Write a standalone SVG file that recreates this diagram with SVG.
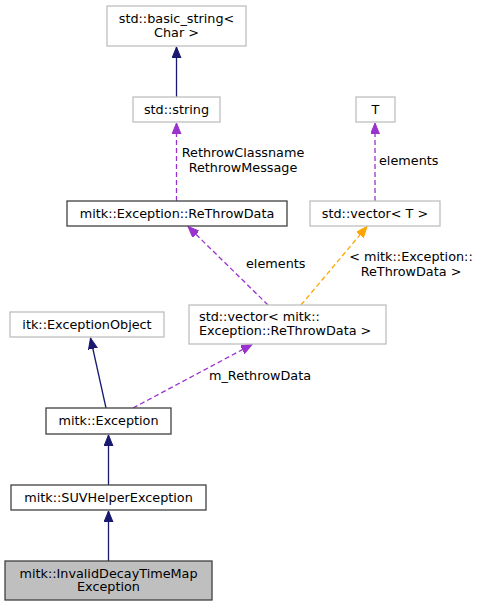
<svg xmlns="http://www.w3.org/2000/svg" width="479" height="607" viewBox="0 0 479 607">
<style>
text{font-family:"DejaVu Sans",sans-serif;font-size:12.8px;fill:#000}
.c{text-anchor:middle}
.g{fill:#fff;stroke:#bfbfbf;stroke-width:1.3}
.b{fill:#fff;stroke:#404040;stroke-width:1.3}
.s{fill:#bfbfbf;stroke:#404040;stroke-width:1.3}
.n{stroke:#191970;stroke-width:1.3;fill:none}
.p{stroke:#9a32cd;stroke-width:1.3;fill:none;stroke-dasharray:5,3}
.o{stroke:#ffa500;stroke-width:1.3;fill:none;stroke-dasharray:5,3}
</style>
<defs>
<marker id="an" markerUnits="userSpaceOnUse" markerWidth="12" markerHeight="10" refX="11" refY="4.5" orient="auto" viewBox="0 0 12 10"><path d="M0,0 L11,4.5 L0,9 Z" fill="#191970" stroke="#191970"/></marker>
<marker id="ap" markerUnits="userSpaceOnUse" markerWidth="12" markerHeight="10" refX="11" refY="4.5" orient="auto" viewBox="0 0 12 10"><path d="M0,0 L11,4.5 L0,9 Z" fill="#9a32cd" stroke="#9a32cd"/></marker>
<marker id="ao" markerUnits="userSpaceOnUse" markerWidth="12" markerHeight="10" refX="11" refY="4.5" orient="auto" viewBox="0 0 12 10"><path d="M0,0 L11,4.5 L0,9 Z" fill="#ffa500" stroke="#ffa500"/></marker>
</defs>
<g id="connectors">
<path class="n" d="M176.5,97 L176.5,47" marker-end="url(#an)"/>
<path class="p" d="M176.5,201 L176.5,123" marker-end="url(#ap)"/>
<path class="p" d="M375,201 L375,123" marker-end="url(#ap)"/>
<path class="p" d="M268,305 L188,226.5" marker-end="url(#ap)"/>
<path class="o" d="M301,305 L367,226.5" marker-end="url(#ao)"/>
<path class="n" d="M106,408 L90.5,338" marker-end="url(#an)"/>
<path class="p" d="M133,408 L252,344.5" marker-end="url(#ap)"/>
<path class="n" d="M108.5,485 L108.5,435" marker-end="url(#an)"/>
<path class="n" d="M108.5,561 L108.5,511" marker-end="url(#an)"/>
<text class="c" x="243" y="157">RethrowClassname</text>
<text class="c" x="243" y="172">RethrowMessage</text>
<text x="379" y="165">elements</text>
<text x="246" y="268">elements</text>
<text class="c" x="411" y="261">&lt; mitk::Exception::</text>
<text class="c" x="411" y="276">ReThrowData &gt;</text>
<text x="209" y="380">m_RethrowData</text>
</g>
<g id="node_basic_string"><rect class="g" x="107" y="6" width="139" height="40"/><text class="c" x="176.5" y="22.5">std::basic_string&lt;</text><text class="c" x="176.5" y="36.5">Char &gt;</text></g>
<g id="node_string"><rect class="g" x="133" y="97" width="87" height="25"/><text class="c" x="176.5" y="113.5">std::string</text></g>
<g id="node_T"><rect class="g" x="356" y="97" width="39" height="25"/><text class="c" x="375.5" y="113.5">T</text></g>
<g id="node_rethrowdata"><rect class="b" x="67" y="201" width="220" height="25"/><text class="c" x="177" y="217.5">mitk::Exception::ReThrowData</text></g>
<g id="node_vector_T"><rect class="g" x="310" y="201" width="130" height="25"/><text class="c" x="375" y="217.5">std::vector&lt; T &gt;</text></g>
<g id="node_vector_rtd"><rect class="g" x="189" y="305" width="197" height="39"/><text x="199" y="321">std::vector&lt; mitk::</text><text x="199" y="335">Exception::ReThrowData &gt;</text></g>
<g id="node_itk"><rect class="g" x="10" y="312" width="154" height="25"/><text class="c" x="87" y="328.5">itk::ExceptionObject</text></g>
<g id="node_exception"><rect class="b" x="46" y="408" width="125" height="26"/><text class="c" x="108.5" y="425">mitk::Exception</text></g>
<g id="node_suv"><rect class="b" x="11" y="485" width="195" height="25"/><text class="c" x="108.5" y="501.5">mitk::SUVHelperException</text></g>
<g id="node_invalid"><rect class="s" x="5" y="561" width="207" height="39"/><text class="c" x="108.5" y="577.5">mitk::InvalidDecayTimeMap</text><text class="c" x="108.5" y="591">Exception</text></g>
</svg>
